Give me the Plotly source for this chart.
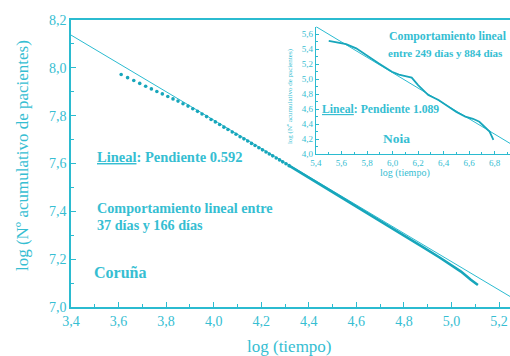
import plotly.graph_objects as go

# ---------------- data ----------------
# Coruña: sparse early points (dotted part)
coruna_dots_x = [3.611, 3.638, 3.664, 3.689, 3.714, 3.738, 3.761, 3.784, 3.807, 3.829,
                 3.850, 3.871, 3.892, 3.912, 3.932, 3.951, 3.970, 3.989, 4.007, 4.025,
                 4.043, 4.060, 4.078, 4.094, 4.111, 4.127, 4.143, 4.159, 4.174, 4.190,
                 4.205, 4.220, 4.234, 4.248, 4.263, 4.277, 4.290, 4.304, 4.317]
coruna_dots_y = [7.972, 7.959, 7.947, 7.935, 7.923, 7.912, 7.901, 7.891, 7.880, 7.870,
                 7.861, 7.850, 7.840, 7.829, 7.818, 7.807, 7.796, 7.784, 7.774, 7.763,
                 7.752, 7.742, 7.732, 7.722, 7.712, 7.703, 7.694, 7.684, 7.675, 7.666,
                 7.657, 7.648, 7.640, 7.632, 7.623, 7.615, 7.607, 7.599, 7.591]
# Coruña: dense later part (points merge into a band)
coruna_band_x = [4.317, 4.40, 4.50, 4.60, 4.70, 4.80, 4.88, 4.95, 5.00, 5.04, 5.08, 5.111]
coruna_band_y = [7.591, 7.541, 7.481, 7.421, 7.362, 7.300, 7.250, 7.207, 7.176, 7.148, 7.115, 7.092]
# Coruña linear fit
coruna_fit_x = [3.4, 5.246]
coruna_fit_y = [8.137, 7.044]

# Noia (inset)
noia_x = [5.50, 5.56, 5.636, 5.715, 5.79, 5.89, 5.995, 6.05, 6.10, 6.15, 6.20,
          6.28, 6.36, 6.44, 6.50, 6.57, 6.63, 6.68, 6.72, 6.76, 6.79]
noia_y = [5.51, 5.49, 5.467, 5.41, 5.32, 5.21, 5.097, 5.06, 5.04, 5.02, 4.92,
          4.787, 4.72, 4.63, 4.56, 4.50, 4.47, 4.43, 4.37, 4.30, 4.19]
noia_fit_x = [5.4, 6.92]
noia_fit_y = [5.70, 4.142]

main_x_range = [3.4, 5.246]
main_y_range = [7.0, 8.2]
inset_x_range = [5.4, 6.92]
inset_y_range = [4.0, 5.7]

# ---------------- style ----------------
AX = "#2bbbd0"
TXT = "#36bed2"
DATA = "#17a6bb"
SERIF = "Liberation Serif, Times New Roman, serif"

fig = go.Figure()

fig.add_trace(go.Scatter(x=coruna_fit_x, y=coruna_fit_y, mode="lines",
                         line=dict(color=AX, width=1), xaxis="x", yaxis="y",
                         hoverinfo="skip", showlegend=False))
fig.add_trace(go.Scatter(x=coruna_dots_x, y=coruna_dots_y, mode="markers",
                         marker=dict(color=DATA, size=3.6), xaxis="x", yaxis="y",
                         showlegend=False))
fig.add_trace(go.Scatter(x=coruna_band_x, y=coruna_band_y, mode="lines",
                         line=dict(color=DATA, width=2.6), xaxis="x", yaxis="y",
                         showlegend=False))

fig.add_trace(go.Scatter(x=noia_fit_x, y=noia_fit_y, mode="lines",
                         line=dict(color=AX, width=1), xaxis="x2", yaxis="y2",
                         hoverinfo="skip", showlegend=False))
fig.add_trace(go.Scatter(x=noia_x, y=noia_y, mode="lines",
                         line=dict(color=DATA, width=1.8), xaxis="x2", yaxis="y2",
                         showlegend=False))

tickfont_main = dict(family=SERIF, size=14, color=TXT)
tickfont_inset = dict(family=SERIF, size=9, color=TXT)

fig.update_layout(
    width=510, height=356,
    margin=dict(l=71, r=0, t=20, b=49),
    paper_bgcolor="white", plot_bgcolor="white",
    separators=",.",
    showlegend=False,
    xaxis=dict(range=main_x_range, domain=[0, 1], dtick=0.2, tick0=3.4, tickformat=".1f",
               showline=True, linecolor=AX, linewidth=1.5, mirror=True,
               ticks="inside", ticklen=5, tickcolor=AX, tickwidth=1.2,
               minor=dict(dtick=0.1, ticks="inside", ticklen=3, tickcolor=AX, tickwidth=1),
               showgrid=False, zeroline=False, tickfont=tickfont_main),
    yaxis=dict(range=main_y_range, domain=[0, 1], dtick=0.2, tick0=7.0, tickformat=".1f",
               showline=True, linecolor=AX, linewidth=1.5,
               ticks="inside", ticklen=5, tickcolor=AX, tickwidth=1.2,
               minor=dict(dtick=0.1, ticks="inside", ticklen=3, tickcolor=AX, tickwidth=1),
               showgrid=False, zeroline=False, tickfont=tickfont_main),
    xaxis2=dict(range=inset_x_range, domain=[0.558, 1.0], anchor="y2",
                dtick=0.2, tick0=5.4, tickformat=".1f",
                showline=True, linecolor=AX, linewidth=1.2,
                ticks="inside", ticklen=3, tickcolor=AX,
                minor=dict(dtick=0.1, ticks="inside", ticklen=2, tickcolor=AX),
                showgrid=False, zeroline=False, tickfont=tickfont_inset),
    yaxis2=dict(range=inset_y_range, domain=[0.533, 0.977], anchor="x2",
                dtick=0.2, tick0=4.0, tickformat=".1f",
                showline=True, linecolor=AX, linewidth=1.2,
                ticks="inside", ticklen=3, tickcolor=AX,
                minor=dict(dtick=0.1, ticks="inside", ticklen=2, tickcolor=AX),
                showgrid=False, zeroline=False, tickfont=tickfont_inset),
)

def ann(text, x, y, size, xref="x", yref="y", xanchor="left", bold=True, angle=0):
    fig.add_annotation(text=("<b>%s</b>" % text) if bold else text, x=x, y=y,
                       xref=xref, yref=yref, xanchor=xanchor, yanchor="middle",
                       showarrow=False, textangle=angle,
                       font=dict(family=SERIF, size=size, color=TXT))

# main annotations
ann("<u>Lineal</u>: Pendiente 0.592", 3.501, 7.627, 14.5)
ann("Comportamiento lineal entre", 3.501, 7.414, 14.2)
ann("37 días y 166 días", 3.501, 7.343, 14.2)
ann("Coruña", 3.488, 7.146, 16)

# inset annotations
ann("Comportamiento lineal", 6.435, 5.573, 11.8, xref="x2", yref="y2", xanchor="center")
ann("entre 249 días y 884 días", 5.95, 5.347, 11.0, xref="x2", yref="y2")
ann("<u>Lineal</u>: Pendiente 1.089", 5.431, 4.60, 11.7, xref="x2", yref="y2")
ann("Noia", 6.027, 4.213, 13.5, xref="x2", yref="y2", xanchor="center")

# axis titles
ann("log (tiempo)", 0.497, -0.136, 17, xref="paper", yref="paper", xanchor="center", bold=False)
ann("log (Nº acumulativo de pacientes)", -0.1116, 0.526, 17, xref="paper", yref="paper",
    xanchor="center", bold=False, angle=-90)
ann("log (tiempo)", 0.761, 0.467, 10, xref="paper", yref="paper", xanchor="center", bold=False)
ann("log (Nº acumulativo de pacientes)", 0.499, 0.735, 7, xref="paper", yref="paper",
    xanchor="center", bold=False, angle=-90)

fig.write_html("out.html")
